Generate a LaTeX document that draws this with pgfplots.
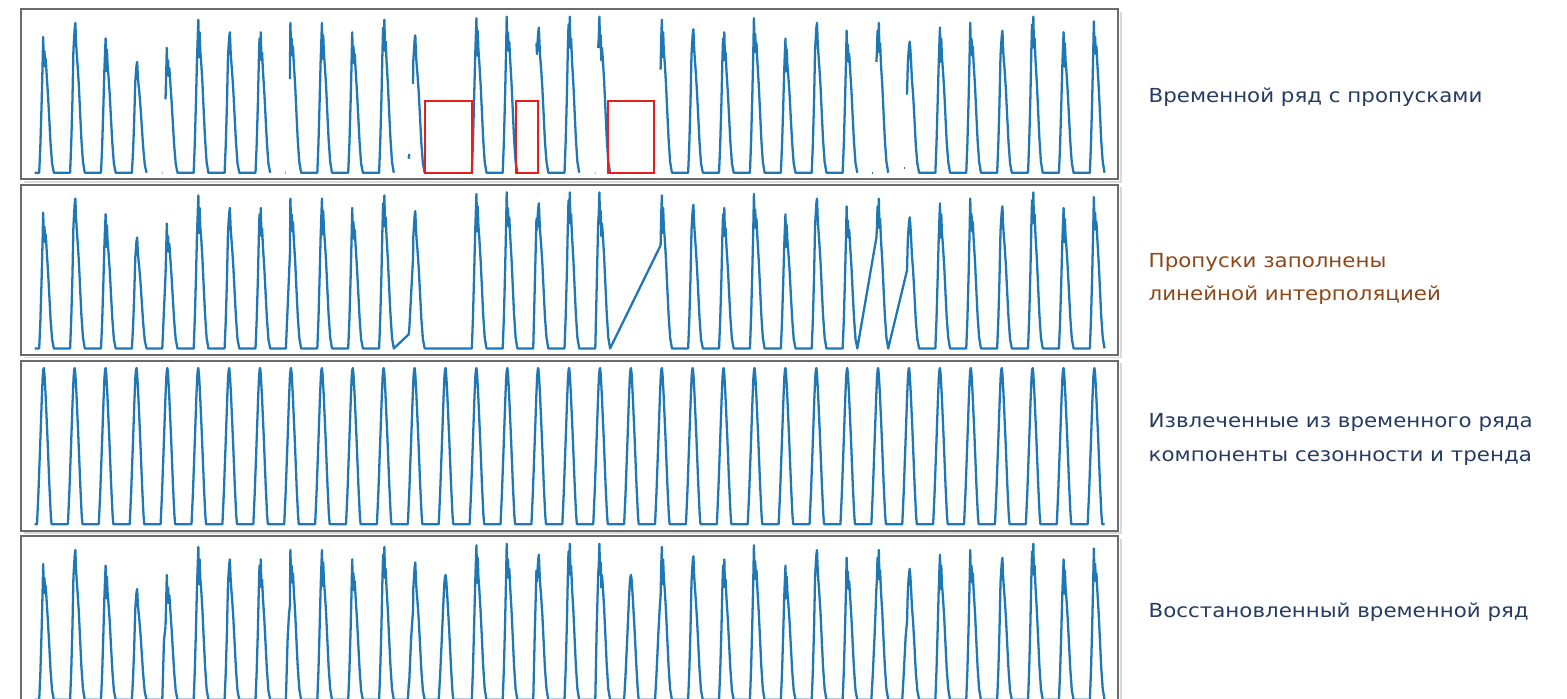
\documentclass[border=0pt]{standalone}
\usepackage{pgfplots}
\pgfplotsset{compat=1.18}
\usepackage{pgfplotstable}
\usepackage{fontspec}
\newfontfamily\labelfont[FakeStretch=1.105]{DejaVu Sans}
\definecolor{tabblue}{RGB}{31,119,180}
\definecolor{navy}{RGB}{38,58,98}
\definecolor{brownlbl}{RGB}{140,72,24}
\definecolor{boxred}{RGB}{232,30,30}

\pgfplotsset{
  panel/.style={scale only axis, width=10.97cm, height=1.70cm, anchor=north west,
    xmin=-5.3, xmax=846.7, ymin=-0.042, ymax=1.047, xtick=\empty, ytick=\empty,
    axis line style={draw=black!58, line width=0.55pt}},
  series/.style={draw=tabblue, line width=0.65pt, mark=none, line join=round}
}

% original series (nan = missing)
\pgfplotstableread[row sep=\\]{
t y\\
5 0\\8.6 0\\9.5 0.17\\10.4 0.42\\11.2 0.68\\11.7 0.87\\12.2 0.71\\12.7 0.78\\13.2 0.68\\13.7 0.73\\14.4 0.63\\15.4 0.50\\16.4 0.35\\17.4 0.19\\18.6 0.06\\20 0\\
32.6 0\\33.5 0.19\\34.4 0.46\\35.2 0.79\\35.7 0.86\\36.2 0.93\\36.7 0.96\\37.2 0.84\\37.7 0.77\\38.4 0.69\\39.4 0.56\\40.4 0.38\\41.4 0.21\\42.6 0.07\\44 0\\
56.6 0\\57.5 0.17\\58.4 0.41\\59.2 0.65\\59.7 0.76\\60.2 0.86\\60.7 0.65\\61.2 0.79\\61.7 0.69\\62.4 0.62\\63.4 0.50\\64.4 0.34\\65.4 0.19\\66.6 0.06\\68 0\\
80.6 0\\81.5 0.14\\82.4 0.34\\83.2 0.58\\83.7 0.64\\84.2 0.69\\84.7 0.71\\85.2 0.62\\85.7 0.57\\86.4 0.51\\87.4 0.41\\88.4 0.28\\89.4 0.16\\90.6 0.05\\92 0\\93 nan\\
103.8 0\\104.2 0\\105 nan\\
106.7 0.47\\107.2 0.62\\107.7 0.80\\108.2 0.66\\108.7 0.72\\109.2 0.62\\109.7 0.67\\110.4 0.58\\111.4 0.46\\112.4 0.32\\113.4 0.18\\114.6 0.06\\116 0\\
128.6 0\\129.5 0.20\\130.4 0.47\\131.2 0.74\\131.7 0.86\\132.2 0.98\\132.7 0.74\\133.2 0.90\\133.7 0.78\\134.4 0.71\\135.4 0.57\\136.4 0.39\\137.4 0.22\\138.6 0.07\\140 0\\
152.6 0\\153.5 0.18\\154.4 0.43\\155.2 0.74\\155.7 0.81\\156.2 0.87\\156.7 0.90\\157.2 0.79\\157.7 0.72\\158.4 0.65\\159.4 0.52\\160.4 0.36\\161.4 0.20\\162.6 0.06\\164 0\\
176.6 0\\177.5 0.18\\178.4 0.43\\179.2 0.72\\179.7 0.86\\180.2 0.77\\180.7 0.90\\181.2 0.72\\181.7 0.77\\182.4 0.65\\183.4 0.52\\184.4 0.36\\185.4 0.20\\186.6 0.06\\188 0\\189 nan\\
199.8 0\\200.2 0\\201 nan\\
203.3 0.60\\203.7 0.96\\204.2 0.79\\204.7 0.86\\205.2 0.75\\205.7 0.81\\206.4 0.69\\207.4 0.56\\208.4 0.38\\209.4 0.21\\210.6 0.07\\212 0\\
224.6 0\\225.5 0.19\\226.4 0.46\\227.2 0.72\\227.7 0.84\\228.2 0.96\\228.7 0.73\\229.2 0.88\\229.7 0.77\\230.4 0.69\\231.4 0.56\\232.4 0.38\\233.4 0.21\\234.6 0.07\\236 0\\
248.6 0\\249.5 0.18\\250.4 0.43\\251.2 0.70\\251.7 0.90\\252.2 0.74\\252.7 0.81\\253.2 0.70\\253.7 0.76\\254.4 0.65\\255.4 0.52\\256.4 0.36\\257.4 0.20\\258.6 0.06\\260 0\\
272.6 0\\273.5 0.20\\274.4 0.47\\275.2 0.78\\275.7 0.93\\276.2 0.83\\276.7 0.98\\277.2 0.78\\277.7 0.84\\278.4 0.71\\279.4 0.57\\280.4 0.39\\281.4 0.22\\282.6 0.07\\284 0\\285 nan\\
295.6 0.09\\296 0.12\\297 nan\\
298.9 0.57\\299.2 0.72\\299.7 0.79\\300.2 0.85\\300.7 0.88\\301.2 0.77\\301.7 0.70\\302.4 0.63\\303.4 0.51\\304.4 0.35\\305.4 0.19\\306.6 0.06\\308 0\\309 nan\\
344.6 0\\345.5 0.20\\346.4 0.48\\347.2 0.74\\347.7 0.87\\348.2 0.99\\348.7 0.75\\349.2 0.91\\349.7 0.79\\350.4 0.71\\351.4 0.57\\352.4 0.40\\353.4 0.22\\354.6 0.07\\356 0\\
368.6 0\\369.5 0.20\\370.4 0.48\\371.2 0.78\\371.7 1.00\\372.2 0.82\\372.7 0.90\\373.2 0.78\\373.7 0.84\\374.4 0.72\\375.4 0.58\\376.4 0.40\\377.4 0.22\\378.6 0.07\\380 0\\381 nan\\
391.9 0\\392.3 0\\393 nan\\
394.8 0.83\\395.2 0.76\\395.7 0.84\\396.2 0.90\\396.7 0.93\\397.2 0.82\\397.7 0.74\\398.4 0.67\\399.4 0.54\\400.4 0.37\\401.4 0.20\\402.6 0.07\\404 0\\
416.6 0\\417.5 0.20\\418.4 0.48\\419.2 0.80\\419.7 0.95\\420.2 0.85\\420.7 1.00\\421.2 0.80\\421.7 0.86\\422.4 0.72\\423.4 0.58\\424.4 0.40\\425.4 0.22\\426.6 0.07\\428 0\\429 nan\\
440.1 0\\440.5 0\\441 nan\\
442.7 0.80\\443.2 0.86\\443.7 1.00\\444.2 0.80\\444.7 0.88\\445.2 0.72\\445.7 0.80\\446.4 0.72\\447.4 0.58\\448.4 0.40\\449.4 0.22\\450.6 0.07\\452 0\\453 nan\\
491.2 0.66\\491.7 0.86\\492.2 0.98\\492.7 0.74\\493.2 0.90\\493.7 0.78\\494.4 0.71\\495.4 0.57\\496.4 0.39\\497.4 0.22\\498.6 0.07\\500 0\\
512.6 0\\513.5 0.18\\514.4 0.44\\515.2 0.75\\515.7 0.83\\516.2 0.89\\516.7 0.92\\517.2 0.81\\517.7 0.74\\518.4 0.66\\519.4 0.53\\520.4 0.37\\521.4 0.20\\522.6 0.06\\524 0\\
536.6 0\\537.5 0.18\\538.4 0.43\\539.2 0.72\\539.7 0.86\\540.2 0.77\\540.7 0.90\\541.2 0.72\\541.7 0.77\\542.4 0.65\\543.4 0.52\\544.4 0.36\\545.4 0.20\\546.6 0.06\\548 0\\
560.6 0\\561.5 0.20\\562.4 0.48\\563.2 0.77\\563.7 0.99\\564.2 0.81\\564.7 0.89\\565.2 0.77\\565.7 0.83\\566.4 0.71\\567.4 0.57\\568.4 0.40\\569.4 0.22\\570.6 0.07\\572 0\\
584.6 0\\585.5 0.17\\586.4 0.41\\587.2 0.65\\587.7 0.76\\588.2 0.86\\588.7 0.65\\589.2 0.79\\589.7 0.69\\590.4 0.62\\591.4 0.50\\592.4 0.34\\593.4 0.19\\594.6 0.06\\596 0\\
608.6 0\\609.5 0.19\\610.4 0.46\\611.2 0.79\\611.7 0.86\\612.2 0.93\\612.7 0.96\\613.2 0.84\\613.7 0.77\\614.4 0.69\\615.4 0.56\\616.4 0.38\\617.4 0.21\\618.6 0.07\\620 0\\
632.6 0\\633.5 0.18\\634.4 0.44\\635.2 0.71\\635.7 0.91\\636.2 0.75\\636.7 0.82\\637.2 0.71\\637.7 0.76\\638.4 0.66\\639.4 0.53\\640.4 0.36\\641.4 0.20\\642.6 0.06\\644 0\\645 nan\\
658.8 0.71\\659.2 0.77\\659.7 0.91\\660.2 0.82\\660.7 0.96\\661.2 0.77\\661.7 0.83\\662.4 0.69\\663.4 0.56\\664.4 0.38\\665.4 0.21\\666.6 0.07\\668 0\\669 nan\\
682.6 0.50\\683.2 0.69\\683.7 0.76\\684.2 0.81\\684.7 0.84\\685.2 0.79\\685.7 0.72\\686.4 0.60\\687.4 0.49\\688.4 0.34\\689.4 0.18\\690.6 0.06\\692 0\\
704.6 0\\705.5 0.19\\706.4 0.45\\707.2 0.70\\707.7 0.82\\708.2 0.93\\708.7 0.71\\709.2 0.86\\709.7 0.74\\710.4 0.67\\711.4 0.54\\712.4 0.37\\713.4 0.20\\714.6 0.07\\716 0\\
728.6 0\\729.5 0.19\\730.4 0.46\\731.2 0.75\\731.7 0.96\\732.2 0.79\\732.7 0.86\\733.2 0.75\\733.7 0.81\\734.4 0.69\\735.4 0.56\\736.4 0.38\\737.4 0.21\\738.6 0.07\\740 0\\
752.6 0\\753.5 0.18\\754.4 0.44\\755.2 0.75\\755.7 0.82\\756.2 0.88\\756.7 0.91\\757.2 0.80\\757.7 0.73\\758.4 0.66\\759.4 0.53\\760.4 0.36\\761.4 0.20\\762.6 0.06\\764 0\\
776.6 0\\777.5 0.20\\778.4 0.48\\779.2 0.80\\779.7 0.95\\780.2 0.85\\780.7 1.00\\781.2 0.80\\781.7 0.86\\782.4 0.72\\783.4 0.58\\784.4 0.40\\785.4 0.22\\786.6 0.07\\788 0\\
800.6 0\\801.5 0.18\\802.4 0.43\\803.2 0.68\\803.7 0.79\\804.2 0.90\\804.7 0.68\\805.2 0.83\\805.7 0.72\\806.4 0.65\\807.4 0.52\\808.4 0.36\\809.4 0.20\\810.6 0.06\\812 0\\
824.6 0\\825.5 0.19\\826.4 0.47\\827.2 0.76\\827.7 0.97\\828.2 0.80\\828.7 0.87\\829.2 0.76\\829.7 0.81\\830.4 0.70\\831.4 0.56\\832.4 0.39\\833.4 0.21\\834.6 0.07\\836 0\\
}\origdata

% isolated points shown only in the first panel
\pgfplotstableread[row sep=\\]{
t y\\
655.7 0\\656.1 0\\657 nan\\680.1 0.03\\680.5 0.03\\
}\isodata

% seasonal + trend component
\pgfplotstableread[row sep=\\]{
t y\\
5 0\\
6.9 0\\8 0.2\\9.5 0.54\\10.6 0.8\\11.3 0.94\\11.8 0.99\\12.2 1\\12.7 0.96\\13.5 0.84\\15 0.56\\16.5 0.25\\17.6 0.06\\18.2 0\\
30.9 0\\32 0.2\\33.5 0.54\\34.6 0.8\\35.3 0.94\\35.8 0.99\\36.2 1\\36.7 0.96\\37.5 0.84\\39 0.56\\40.5 0.25\\41.6 0.06\\42.2 0\\
54.9 0\\56 0.2\\57.5 0.54\\58.6 0.8\\59.3 0.94\\59.8 0.99\\60.2 1\\60.7 0.96\\61.5 0.84\\63 0.56\\64.5 0.25\\65.6 0.06\\66.2 0\\
78.9 0\\80 0.2\\81.5 0.54\\82.6 0.8\\83.3 0.94\\83.8 0.99\\84.2 1\\84.7 0.96\\85.5 0.84\\87 0.56\\88.5 0.25\\89.6 0.06\\90.2 0\\
102.9 0\\104 0.2\\105.5 0.54\\106.6 0.8\\107.3 0.94\\107.8 0.99\\108.2 1\\108.7 0.96\\109.5 0.84\\111 0.56\\112.5 0.25\\113.6 0.06\\114.2 0\\
126.9 0\\128 0.2\\129.5 0.54\\130.6 0.8\\131.3 0.94\\131.8 0.99\\132.2 1\\132.7 0.96\\133.5 0.84\\135 0.56\\136.5 0.25\\137.6 0.06\\138.2 0\\
150.9 0\\152 0.2\\153.5 0.54\\154.6 0.8\\155.3 0.94\\155.8 0.99\\156.2 1\\156.7 0.96\\157.5 0.84\\159 0.56\\160.5 0.25\\161.6 0.06\\162.2 0\\
174.9 0\\176 0.2\\177.5 0.54\\178.6 0.8\\179.3 0.94\\179.8 0.99\\180.2 1\\180.7 0.96\\181.5 0.84\\183 0.56\\184.5 0.25\\185.6 0.06\\186.2 0\\
198.9 0\\200 0.2\\201.5 0.54\\202.6 0.8\\203.3 0.94\\203.8 0.99\\204.2 1\\204.7 0.96\\205.5 0.84\\207 0.56\\208.5 0.25\\209.6 0.06\\210.2 0\\
222.9 0\\224 0.2\\225.5 0.54\\226.6 0.8\\227.3 0.94\\227.8 0.99\\228.2 1\\228.7 0.96\\229.5 0.84\\231 0.56\\232.5 0.25\\233.6 0.06\\234.2 0\\
246.9 0\\248 0.2\\249.5 0.54\\250.6 0.8\\251.3 0.94\\251.8 0.99\\252.2 1\\252.7 0.96\\253.5 0.84\\255 0.56\\256.5 0.25\\257.6 0.06\\258.2 0\\
270.9 0\\272 0.2\\273.5 0.54\\274.6 0.8\\275.3 0.94\\275.8 0.99\\276.2 1\\276.7 0.96\\277.5 0.84\\279 0.56\\280.5 0.25\\281.6 0.06\\282.2 0\\
294.9 0\\296 0.2\\297.5 0.54\\298.6 0.8\\299.3 0.94\\299.8 0.99\\300.2 1\\300.7 0.96\\301.5 0.84\\303 0.56\\304.5 0.25\\305.6 0.06\\306.2 0\\
318.9 0\\320 0.2\\321.5 0.54\\322.6 0.8\\323.3 0.94\\323.8 0.99\\324.2 1\\324.7 0.96\\325.5 0.84\\327 0.56\\328.5 0.25\\329.6 0.06\\330.2 0\\
342.9 0\\344 0.2\\345.5 0.54\\346.6 0.8\\347.3 0.94\\347.8 0.99\\348.2 1\\348.7 0.96\\349.5 0.84\\351 0.56\\352.5 0.25\\353.6 0.06\\354.2 0\\
366.9 0\\368 0.2\\369.5 0.54\\370.6 0.8\\371.3 0.94\\371.8 0.99\\372.2 1\\372.7 0.96\\373.5 0.84\\375 0.56\\376.5 0.25\\377.6 0.06\\378.2 0\\
390.9 0\\392 0.2\\393.5 0.54\\394.6 0.8\\395.3 0.94\\395.8 0.99\\396.2 1\\396.7 0.96\\397.5 0.84\\399 0.56\\400.5 0.25\\401.6 0.06\\402.2 0\\
414.9 0\\416 0.2\\417.5 0.54\\418.6 0.8\\419.3 0.94\\419.8 0.99\\420.2 1\\420.7 0.96\\421.5 0.84\\423 0.56\\424.5 0.25\\425.6 0.06\\426.2 0\\
438.9 0\\440 0.2\\441.5 0.54\\442.6 0.8\\443.3 0.94\\443.8 0.99\\444.2 1\\444.7 0.96\\445.5 0.84\\447 0.56\\448.5 0.25\\449.6 0.06\\450.2 0\\
462.9 0\\464 0.2\\465.5 0.54\\466.6 0.8\\467.3 0.94\\467.8 0.99\\468.2 1\\468.7 0.96\\469.5 0.84\\471 0.56\\472.5 0.25\\473.6 0.06\\474.2 0\\
486.9 0\\488 0.2\\489.5 0.54\\490.6 0.8\\491.3 0.94\\491.8 0.99\\492.2 1\\492.7 0.96\\493.5 0.84\\495 0.56\\496.5 0.25\\497.6 0.06\\498.2 0\\
510.9 0\\512 0.2\\513.5 0.54\\514.6 0.8\\515.3 0.94\\515.8 0.99\\516.2 1\\516.7 0.96\\517.5 0.84\\519 0.56\\520.5 0.25\\521.6 0.06\\522.2 0\\
534.9 0\\536 0.2\\537.5 0.54\\538.6 0.8\\539.3 0.94\\539.8 0.99\\540.2 1\\540.7 0.96\\541.5 0.84\\543 0.56\\544.5 0.25\\545.6 0.06\\546.2 0\\
558.9 0\\560 0.2\\561.5 0.54\\562.6 0.8\\563.3 0.94\\563.8 0.99\\564.2 1\\564.7 0.96\\565.5 0.84\\567 0.56\\568.5 0.25\\569.6 0.06\\570.2 0\\
582.9 0\\584 0.2\\585.5 0.54\\586.6 0.8\\587.3 0.94\\587.8 0.99\\588.2 1\\588.7 0.96\\589.5 0.84\\591 0.56\\592.5 0.25\\593.6 0.06\\594.2 0\\
606.9 0\\608 0.2\\609.5 0.54\\610.6 0.8\\611.3 0.94\\611.8 0.99\\612.2 1\\612.7 0.96\\613.5 0.84\\615 0.56\\616.5 0.25\\617.6 0.06\\618.2 0\\
630.9 0\\632 0.2\\633.5 0.54\\634.6 0.8\\635.3 0.94\\635.8 0.99\\636.2 1\\636.7 0.96\\637.5 0.84\\639 0.56\\640.5 0.25\\641.6 0.06\\642.2 0\\
654.9 0\\656 0.2\\657.5 0.54\\658.6 0.8\\659.3 0.94\\659.8 0.99\\660.2 1\\660.7 0.96\\661.5 0.84\\663 0.56\\664.5 0.25\\665.6 0.06\\666.2 0\\
678.9 0\\680 0.2\\681.5 0.54\\682.6 0.8\\683.3 0.94\\683.8 0.99\\684.2 1\\684.7 0.96\\685.5 0.84\\687 0.56\\688.5 0.25\\689.6 0.06\\690.2 0\\
702.9 0\\704 0.2\\705.5 0.54\\706.6 0.8\\707.3 0.94\\707.8 0.99\\708.2 1\\708.7 0.96\\709.5 0.84\\711 0.56\\712.5 0.25\\713.6 0.06\\714.2 0\\
726.9 0\\728 0.2\\729.5 0.54\\730.6 0.8\\731.3 0.94\\731.8 0.99\\732.2 1\\732.7 0.96\\733.5 0.84\\735 0.56\\736.5 0.25\\737.6 0.06\\738.2 0\\
750.9 0\\752 0.2\\753.5 0.54\\754.6 0.8\\755.3 0.94\\755.8 0.99\\756.2 1\\756.7 0.96\\757.5 0.84\\759 0.56\\760.5 0.25\\761.6 0.06\\762.2 0\\
774.9 0\\776 0.2\\777.5 0.54\\778.6 0.8\\779.3 0.94\\779.8 0.99\\780.2 1\\780.7 0.96\\781.5 0.84\\783 0.56\\784.5 0.25\\785.6 0.06\\786.2 0\\
798.9 0\\800 0.2\\801.5 0.54\\802.6 0.8\\803.3 0.94\\803.8 0.99\\804.2 1\\804.7 0.96\\805.5 0.84\\807 0.56\\808.5 0.25\\809.6 0.06\\810.2 0\\
822.9 0\\824 0.2\\825.5 0.54\\826.6 0.8\\827.3 0.94\\827.8 0.99\\828.2 1\\828.7 0.96\\829.5 0.84\\831 0.56\\832.5 0.25\\833.6 0.06\\834.2 0\\
836 0\\
}\seasdata

% values that fill the gaps in the restored series
\pgfplotstableread[row sep=\\]{
t y\\
92 0\\104.2 0\\105.5 0.38\\106.7 0.47\\106.8 nan\\
188 0\\200.2 0\\201.5 0.38\\202.6 0.55\\203.3 0.60\\203.4 nan\\
284 0\\294.9 0\\295.6 0.09\\296 0.12\\297.5 0.40\\298.9 0.57\\299 nan\\
308 0\\318.9 0\\320 0.16\\321.5 0.43\\322.6 0.64\\323.3 0.75\\323.8 0.79\\324.2 0.80\\324.7 0.77\\325.5 0.67\\327 0.45\\328.5 0.20\\329.6 0.05\\330.2 0\\344.6 0\\344.7 nan\\
380 0\\391.9 0\\392.3 0\\393.5 0.43\\394.8 0.83\\394.9 nan\\
428 0\\440.5 0\\441.5 0.43\\442.7 0.80\\442.8 nan\\
452 0\\462.9 0\\464 0.16\\465.5 0.43\\466.6 0.64\\467.3 0.75\\467.8 0.79\\468.2 0.80\\468.7 0.77\\469.5 0.67\\471 0.45\\472.5 0.20\\473.6 0.05\\474.2 0\\486.9 0\\488 0.16\\489.5 0.43\\490.6 0.60\\491.2 0.66\\491.3 nan\\
644 0\\654.9 0\\656 0.16\\657.5 0.43\\658.8 0.71\\658.9 nan\\
668 0\\678.9 0\\680 0.16\\681.5 0.40\\682.6 0.50\\
}\filldata

\begin{document}
\begin{tikzpicture}
% light shadow lines of the frames
\draw[black!15, line width=0.5pt] (0.24,-1.818) -- (11.208,-1.818) -- (11.208,-0.118);
\draw[black!15, line width=0.5pt] (0.24,-3.575) -- (11.208,-3.575) -- (11.208,-1.875);
\draw[black!15, line width=0.5pt] (0.24,-5.332) -- (11.208,-5.332) -- (11.208,-3.632);
\draw[black!15, line width=0.5pt] (11.208,-7.2) -- (11.208,-5.389);

% panel 1: series with gaps
\begin{axis}[panel, at={(0.213cm,-0.093cm)}]
\addplot[series, unbounded coords=jump] table[x=t,y=y]{\origdata};
\addplot[series, unbounded coords=jump] table[x=t,y=y]{\isodata};
\draw[boxred, line width=0.6pt] (axis cs:308.2,0) rectangle (axis cs:344.7,0.46);
\draw[boxred, line width=0.6pt] (axis cs:378.6,0) rectangle (axis cs:395.8,0.46);
\draw[boxred, line width=0.6pt] (axis cs:450.4,0) rectangle (axis cs:486.4,0.46);
\end{axis}

% panel 2: linear interpolation
\begin{axis}[panel, at={(0.213cm,-1.850cm)}]
\addplot[series, unbounded coords=discard] table[x=t,y=y]{\origdata};
\end{axis}

% panel 3: seasonal and trend components
\begin{axis}[panel, at={(0.213cm,-3.607cm)}]
\addplot[series] table[x=t,y=y]{\seasdata};
\end{axis}

% panel 4: restored series
\begin{axis}[panel, at={(0.213cm,-5.364cm)}]
\addplot[series, unbounded coords=jump] table[x=t,y=y]{\origdata};
\addplot[series, unbounded coords=jump] table[x=t,y=y]{\filldata};
\end{axis}

% labels
\node[anchor=west, align=left, text=navy, inner sep=0pt, font={\labelfont\fontsize{5.5}{9.6}\selectfont}] at (11.48,-0.97) {Временной ряд с пропусками};
\node[anchor=west, align=left, text=brownlbl, inner sep=0pt, font={\labelfont\fontsize{5.5}{9.6}\selectfont}] at (11.48,-2.79) {Пропуски заполнены\\линейной интерполяцией};
\node[anchor=west, align=left, text=navy, inner sep=0pt, font={\labelfont\fontsize{5.5}{9.6}\selectfont}] at (11.48,-4.395) {Извлеченные из временного ряда\\компоненты сезонности и тренда};
\node[anchor=west, align=left, text=navy, inner sep=0pt, font={\labelfont\fontsize{5.5}{9.6}\selectfont}] at (11.48,-6.12) {Восстановленный временной ряд};

\pgfresetboundingbox
\path[use as bounding box] (0,0) rectangle (15.67,-6.99);
\end{tikzpicture}
\end{document}
